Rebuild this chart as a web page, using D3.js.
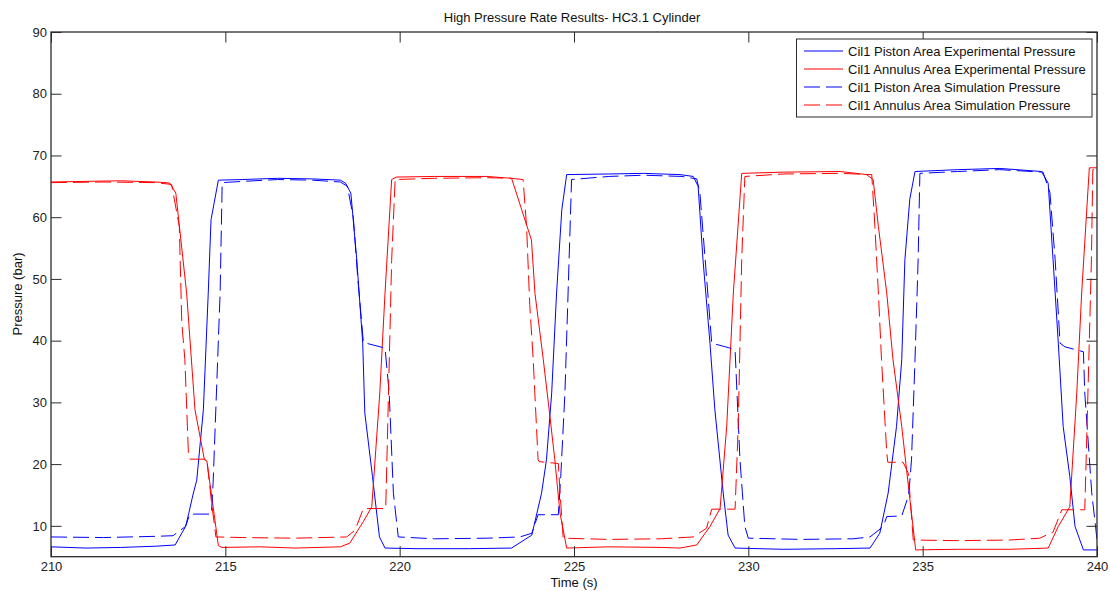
<!DOCTYPE html>
<html>
<head>
<meta charset="utf-8">
<script src="https://cdn.jsdelivr.net/npm/d3@7"></script>
<style>
  html, body { margin: 0; padding: 0; background: #fff; }
  svg { display: block; font-family: "Liberation Sans", Arial, sans-serif; }
</style>
</head>
<body>
<svg id="chart" width="1110" height="591"></svg>
<script>
// Time axis and pressure axis
const xTicks = [210, 215, 220, 225, 230, 235, 240];
const yTicks = [10, 20, 30, 40, 50, 60, 70, 80, 90];
const xDomain = [210, 240];
const yDomain = [5, 90];

const seriesNames = [
  "Cil1 Piston Area Experimental Pressure",
  "Cil1 Annulus Area Experimental Pressure",
  "Cil1 Piston Area Simulation Pressure",
  "Cil1 Annulus Area Simulation Pressure"
];

// [time (s), pressure (bar)]
const pistonExp = [
  [210, 6.6], [211, 6.4], [212, 6.5], [213, 6.7], [213.56, 6.9], [213.86, 9.9], [213.95, 12], [214.07, 15],
  [214.18, 17.4], [214.37, 28.8], [214.51, 47.7], [214.59, 59.6], [214.8, 66.0], [215.5, 66.1], [216.5, 66.3],
  [217.5, 66.2], [218.3, 66.0], [218.45, 65.5], [218.6, 63.9], [218.77, 53.1], [218.94, 39.6], [219.0, 28.3],
  [219.22, 18.0], [219.42, 8.2], [219.58, 6.4], [220.5, 6.3], [222, 6.3], [223.21, 6.4], [223.79, 8.5],
  [224.07, 15.3], [224.21, 20.7], [224.36, 31.5], [224.5, 47.7], [224.65, 61.2], [224.79, 66.9], [226, 67.0],
  [227, 67.1], [228.04, 66.9], [228.42, 66.6], [228.56, 65.0], [228.7, 53.1], [228.9, 39.6], [229.04, 28.8],
  [229.28, 15.3], [229.42, 8.5], [229.62, 6.4], [231, 6.2], [232.5, 6.3], [233.49, 6.4], [233.77, 8.8],
  [234.01, 15.3], [234.25, 26.1], [234.4, 36.9], [234.49, 53.1], [234.63, 62.9], [234.78, 67.4], [236, 67.7],
  [237.22, 67.9], [238.41, 67.4], [238.6, 65.5], [238.74, 53.1], [238.89, 39.6], [239.03, 26.1], [239.22, 18.0],
  [239.37, 9.9], [239.61, 6.1], [240, 6.1]
];

const annulusExp = [
  [210, 65.7], [211, 65.8], [212, 65.9], [213, 65.7], [213.3, 65.6], [213.41, 65.5], [213.58, 63.9], [213.89, 47.7],
  [214.13, 28.8], [214.4, 20.7], [214.47, 20.5], [214.65, 13.1], [214.8, 6.8], [214.9, 6.5], [216, 6.6], [217, 6.4],
  [218.3, 6.6], [218.57, 7.2], [218.96, 10.7], [219.2, 13.1], [219.43, 31.5], [219.58, 47.7], [219.77, 66.1],
  [219.9, 66.5], [221, 66.6], [222.5, 66.6], [223.21, 66.3], [223.78, 56.3], [223.88, 47.7], [224.12, 36.9],
  [224.31, 27.7], [224.45, 20.7], [224.6, 12.0], [224.79, 6.4], [226, 6.6], [227.5, 6.5], [228.04, 6.4],
  [228.52, 6.9], [228.9, 9.9], [229.19, 12.8], [229.38, 26.1], [229.57, 47.7], [229.81, 67.1], [231, 67.3],
  [232.63, 67.4], [233.39, 66.9], [233.58, 66.1], [233.73, 58.5], [233.97, 47.7], [234.15, 36.9], [234.4, 26.1],
  [234.54, 19], [234.68, 12], [234.8, 6.1], [236, 6.2], [237.5, 6.2], [238.6, 6.4], [238.89, 9.9], [239.22, 13.1],
  [239.42, 31.5], [239.56, 47.7], [239.78, 68.0], [240, 68.0]
];

const pistonSim = [
  [210, 8.2], [211.5, 8.1], [213, 8.3], [213.5, 8.4], [213.86, 9.9], [213.98, 11.9], [214.6, 11.9], [214.65, 17],
  [214.85, 47.7], [214.91, 65.6], [215.5, 65.8], [216.5, 66.1], [217.5, 66.0], [218.3, 65.7], [218.5, 65],
  [218.67, 60], [218.8, 50], [218.96, 39.7], [219.58, 38.8], [219.7, 31.5], [219.82, 15.3], [219.96, 8.2],
  [221, 7.9], [222.5, 8.0], [223.45, 8.2], [223.79, 8.8], [223.97, 11.8], [224.55, 11.8], [224.62, 18],
  [224.74, 31.5], [224.83, 47.7], [224.93, 66.1], [226, 66.6], [227, 66.8], [228.1, 66.6], [228.52, 66.2],
  [228.61, 64], [228.8, 50.4], [228.95, 39.6], [229.47, 38.8], [229.62, 38.5], [229.76, 20.7], [229.9, 9.9],
  [230.0, 8.0], [231.5, 7.8], [233.0, 7.9], [233.49, 8.2], [233.87, 9.9], [233.97, 11.5], [234.4, 11.6],
  [234.6, 15], [234.68, 20.7], [234.78, 36.9], [234.87, 53.1], [234.92, 67.1], [236, 67.4], [237.2, 67.7],
  [238.45, 67.3], [238.65, 64], [238.8, 53.1], [238.94, 39.6], [239.08, 39.0], [239.61, 38.2], [239.65, 31.5],
  [239.85, 15.3], [240, 7.8]
];

const annulusSim = [
  [210, 65.6], [211.5, 65.7], [213, 65.6], [213.46, 65.3], [213.68, 58.5], [213.75, 43], [213.84, 36.9],
  [213.94, 21.8], [213.99, 20.8], [214.47, 20.8], [214.6, 14], [214.73, 8.2], [215.5, 8.1], [217, 8.0],
  [218.48, 8.2], [218.72, 9.3], [218.96, 12.8], [219.6, 12.8], [219.68, 31.5], [219.77, 53], [219.87, 66.1],
  [221, 66.3], [222.5, 66.4], [223.2, 66.3], [223.54, 66.1], [223.64, 58.5], [223.73, 45.9], [223.83, 36.9],
  [223.97, 20.7], [224.0, 20.4], [224.55, 20.1], [224.6, 15.3], [224.69, 8.0], [226, 7.8], [227.5, 7.9],
  [228.42, 8.2], [228.8, 9.6], [228.95, 12.7], [229.62, 12.7], [229.71, 26.1], [229.81, 53.1], [229.9, 66.6],
  [231, 67.0], [232.6, 67.1], [233.54, 66.9], [233.63, 58.5], [233.73, 47.7], [233.82, 36.9], [233.97, 21.8],
  [234.0, 20.3], [234.44, 20.3], [234.59, 18.5], [234.73, 7.7], [236, 7.6], [237.5, 7.7], [238.36, 8.0],
  [238.74, 9.0], [238.99, 12.6], [239.65, 12.6], [239.74, 31.5], [239.84, 53.1], [239.88, 67.7], [240, 67.7]
];

const seriesData = [pistonExp, annulusExp, pistonSim, annulusSim];
const seriesColors = ["#0000ff", "#ff0000", "#0000ff", "#ff0000"];
const seriesDash = [null, null, "16,6", "16,6"];

const svg = d3.select("#chart");
const plotLeft = 51, plotTop = 32, plotRight = 1097, plotBottom = 556.7;
const axisColor = "#2b2b2b";
const tickLen = 10.5;

const x = d3.scaleLinear().domain(xDomain).range([plotLeft, plotRight]);
const y = d3.scaleLinear().domain(yDomain).range([plotBottom, plotTop]);

svg.append("defs").append("clipPath").attr("id", "plotClip")
  .append("rect").attr("x", plotLeft).attr("y", plotTop)
  .attr("width", plotRight - plotLeft).attr("height", plotBottom - plotTop);

// Data lines
const line = d3.line().x(d => x(d[0])).y(d => y(d[1]));
const plot = svg.append("g").attr("clip-path", "url(#plotClip)");
seriesData.forEach((data, i) => {
  plot.append("path")
    .datum(data)
    .attr("d", line)
    .attr("fill", "none")
    .attr("stroke", seriesColors[i])
    .attr("stroke-width", 1)
    .attr("stroke-dasharray", seriesDash[i]);
});

// Axes: bottom/left with labels, top/right mirrored ticks only
function styleAxis(g) {
  g.select(".domain").remove();
  g.selectAll(".tick line").attr("stroke", axisColor);
  g.selectAll(".tick text").attr("fill", "#222").style("font-size", "13px")
    .style("font-family", "'Liberation Sans', Arial, sans-serif");
}
svg.append("g").attr("transform", `translate(0,${plotBottom})`)
  .call(d3.axisBottom(x).tickValues(xTicks).tickFormat(d3.format("d"))
    .tickSizeInner(-tickLen).tickSizeOuter(0).tickPadding(5))
  .call(styleAxis);
svg.append("g").attr("transform", `translate(0,${plotTop})`)
  .call(d3.axisTop(x).tickValues(xTicks).tickFormat("").tickSizeInner(-tickLen).tickSizeOuter(0))
  .call(styleAxis);
svg.append("g").attr("transform", `translate(${plotLeft},0)`)
  .call(d3.axisLeft(y).tickValues(yTicks).tickFormat(d3.format("d"))
    .tickSizeInner(-tickLen).tickSizeOuter(0).tickPadding(4))
  .call(styleAxis);
svg.append("g").attr("transform", `translate(${plotRight},0)`)
  .call(d3.axisRight(y).tickValues(yTicks).tickFormat("").tickSizeInner(-tickLen).tickSizeOuter(0))
  .call(styleAxis);

// Plot frame
svg.append("rect")
  .attr("x", plotLeft).attr("y", plotTop)
  .attr("width", plotRight - plotLeft).attr("height", plotBottom - plotTop)
  .attr("fill", "none").attr("stroke", axisColor).attr("stroke-width", 1.3);

// Title and axis labels
svg.append("text").attr("x", 572).attr("y", 21.5).attr("text-anchor", "middle")
  .attr("fill", "#111").style("font-size", "13px")
  .text("High Pressure Rate Results- HC3.1 Cylinder");
svg.append("text").attr("x", 574).attr("y", 587).attr("text-anchor", "middle")
  .attr("fill", "#111").style("font-size", "13px")
  .text("Time (s)");
svg.append("text").attr("transform", "translate(22,294) rotate(-90)").attr("text-anchor", "middle")
  .attr("fill", "#111").style("font-size", "13px")
  .text("Pressure (bar)");

// Legend
const legend = svg.append("g");
legend.append("rect")
  .attr("x", 796.5).attr("y", 39).attr("width", 295.5).attr("height", 78)
  .attr("fill", "#fff").attr("stroke", axisColor).attr("stroke-width", 1);
seriesNames.forEach((name, i) => {
  const ly = 51 + i * 18;
  legend.append("line")
    .attr("x1", 804).attr("x2", 843).attr("y1", ly).attr("y2", ly)
    .attr("stroke", seriesColors[i]).attr("stroke-width", 1)
    .attr("stroke-dasharray", seriesDash[i]);
  legend.append("text")
    .attr("x", 848).attr("y", ly + 4.5)
    .attr("fill", "#111").style("font-size", "13px")
    .text(name);
});
</script>
</body>
</html>
